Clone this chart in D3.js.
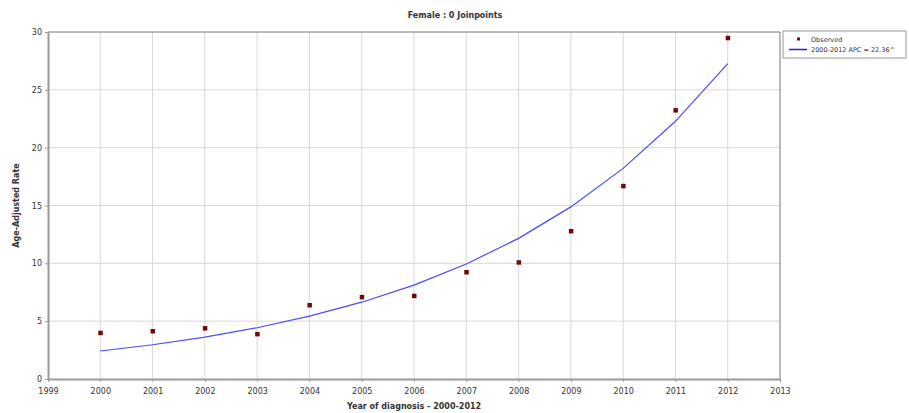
<!DOCTYPE html>
<html lang="en">
<head>
<meta charset="UTF-8">
<title>Female : 0 Joinpoints</title>
<script src="https://d3js.org/d3.v7.min.js"></script>
<style>
    body { margin: 0; background: #fff; }
    text { font-family: "DejaVu Sans", Verdana, sans-serif; }
</style>
</head>
<body>
<div id="chart"></div>
<script>
    // data
    const years = [2000, 2001, 2002, 2003, 2004, 2005, 2006, 2007, 2008, 2009, 2010, 2011, 2012];
    const observed = [4.0, 4.15, 4.4, 3.9, 6.4, 7.1, 7.2, 9.25, 10.1, 12.8, 16.7, 23.25, 29.5];
    const modeled = [2.42, 2.96, 3.62, 4.43, 5.43, 6.64, 8.12, 9.94, 12.16, 14.88, 18.21, 22.28, 27.26];
    const xTicks = [1999, 2000, 2001, 2002, 2003, 2004, 2005, 2006, 2007, 2008, 2009, 2010, 2011, 2012, 2013];
    const yTicks = [0, 5, 10, 15, 20, 25, 30];
    const legendLabels = ["Observed", "2000-2012 APC = 22.36^"];

    const width = 909, height = 413;
    const margin = { left: 48, right: 129, top: 32, bottom: 34 };

    const svg = d3.select('#chart').append('svg')
        .attr('width', width)
        .attr('height', height);

    const x = d3.scaleLinear().domain([1999, 2013]).range([margin.left, width - margin.right]);
    const y = d3.scaleLinear().domain([0, 30]).range([height - margin.bottom, margin.top]);

    // grid
    svg.append('g').selectAll('line.v')
        .data(xTicks.slice(1, -1))
        .enter().append('line')
        .attr('x1', d => x(d)).attr('x2', d => x(d))
        .attr('y1', y(30)).attr('y2', y(0))
        .attr('stroke', '#d8d8d8').attr('stroke-width', 1);
    svg.append('g').selectAll('line.h')
        .data(yTicks.slice(1, -1))
        .enter().append('line')
        .attr('x1', x(1999)).attr('x2', x(2013))
        .attr('y1', d => y(d)).attr('y2', d => y(d))
        .attr('stroke', '#d8d8d8').attr('stroke-width', 1);

    // top and right border
    svg.append('path')
        .attr('d', `M${x(1999)},${y(30)}H${x(2013)}V${y(0)}`)
        .attr('fill', 'none').attr('stroke', '#777').attr('stroke-width', 1);

    // axes
    const xAxis = svg.append('g')
        .attr('transform', `translate(0,${y(0)})`)
        .call(d3.axisBottom(x).tickValues(xTicks).tickFormat(d3.format('d')).tickSize(3).tickSizeOuter(0));
    const yAxis = svg.append('g')
        .attr('transform', `translate(${x(1999)},0)`)
        .call(d3.axisLeft(y).tickValues(yTicks).tickSize(3).tickSizeOuter(0));

    [xAxis, yAxis].forEach(g => {
        g.select('.domain').attr('stroke', '#999').attr('stroke-width', 2);
        g.selectAll('.tick line').attr('stroke', '#999');
        g.selectAll('.tick text')
            .attr('fill', '#333')
            .style('font-size', '8px')
            .style('font-family', '"DejaVu Sans", sans-serif');
    });
    xAxis.selectAll('.tick text').attr('dy', '1.1em');

    // modeled line
    svg.append('path')
        .datum(years.map((yr, i) => [yr, modeled[i]]))
        .attr('fill', 'none')
        .attr('stroke', '#4a4aff')
        .attr('stroke-width', 1.2)
        .attr('d', d3.line().x(d => x(d[0])).y(d => y(d[1])));

    // observed points
    svg.append('g').selectAll('rect')
        .data(years.map((yr, i) => [yr, observed[i]]))
        .enter().append('rect')
        .attr('x', d => x(d[0]) - 2)
        .attr('y', d => y(d[1]) - 2)
        .attr('width', 4.5).attr('height', 4.5)
        .attr('fill', '#6e0a0a');

    // titles
    svg.append('text')
        .attr('x', 455).attr('y', 18)
        .attr('text-anchor', 'middle')
        .style('font-size', '8px').style('font-weight', 'bold')
        .attr('fill', '#333')
        .text('Female : 0 Joinpoints');

    svg.append('text')
        .attr('x', (x(1999) + x(2013)) / 2).attr('y', 409)
        .attr('text-anchor', 'middle')
        .style('font-size', '8px').style('font-weight', 'bold')
        .attr('fill', '#333')
        .text('Year of diagnosis - 2000-2012');

    svg.append('text')
        .attr('transform', `translate(19,${(y(0) + y(30)) / 2}) rotate(-90)`)
        .attr('text-anchor', 'middle')
        .style('font-size', '8px').style('font-weight', 'bold')
        .attr('fill', '#333')
        .text('Age-Adjusted Rate');

    // legend
    const lg = svg.append('g').attr('transform', 'translate(783,31)');
    lg.append('rect')
        .attr('width', 123).attr('height', 27)
        .attr('fill', '#fff').attr('stroke', '#999').attr('stroke-width', 1);
    lg.append('rect')
        .attr('x', 14).attr('y', 6.5).attr('width', 3).attr('height', 3)
        .attr('fill', '#6e0a0a');
    lg.append('line')
        .attr('x1', 6).attr('x2', 24).attr('y1', 18.5).attr('y2', 18.5)
        .attr('stroke', '#2222cc').attr('stroke-width', 1.5);
    lg.selectAll('text.lbl')
        .data(legendLabels)
        .enter().append('text')
        .attr('x', 28)
        .attr('y', (d, i) => 10.5 + i * 10)
        .style('font-size', '6.5px')
        .attr('fill', '#333')
        .text(d => d);
</script>
</body>
</html>
